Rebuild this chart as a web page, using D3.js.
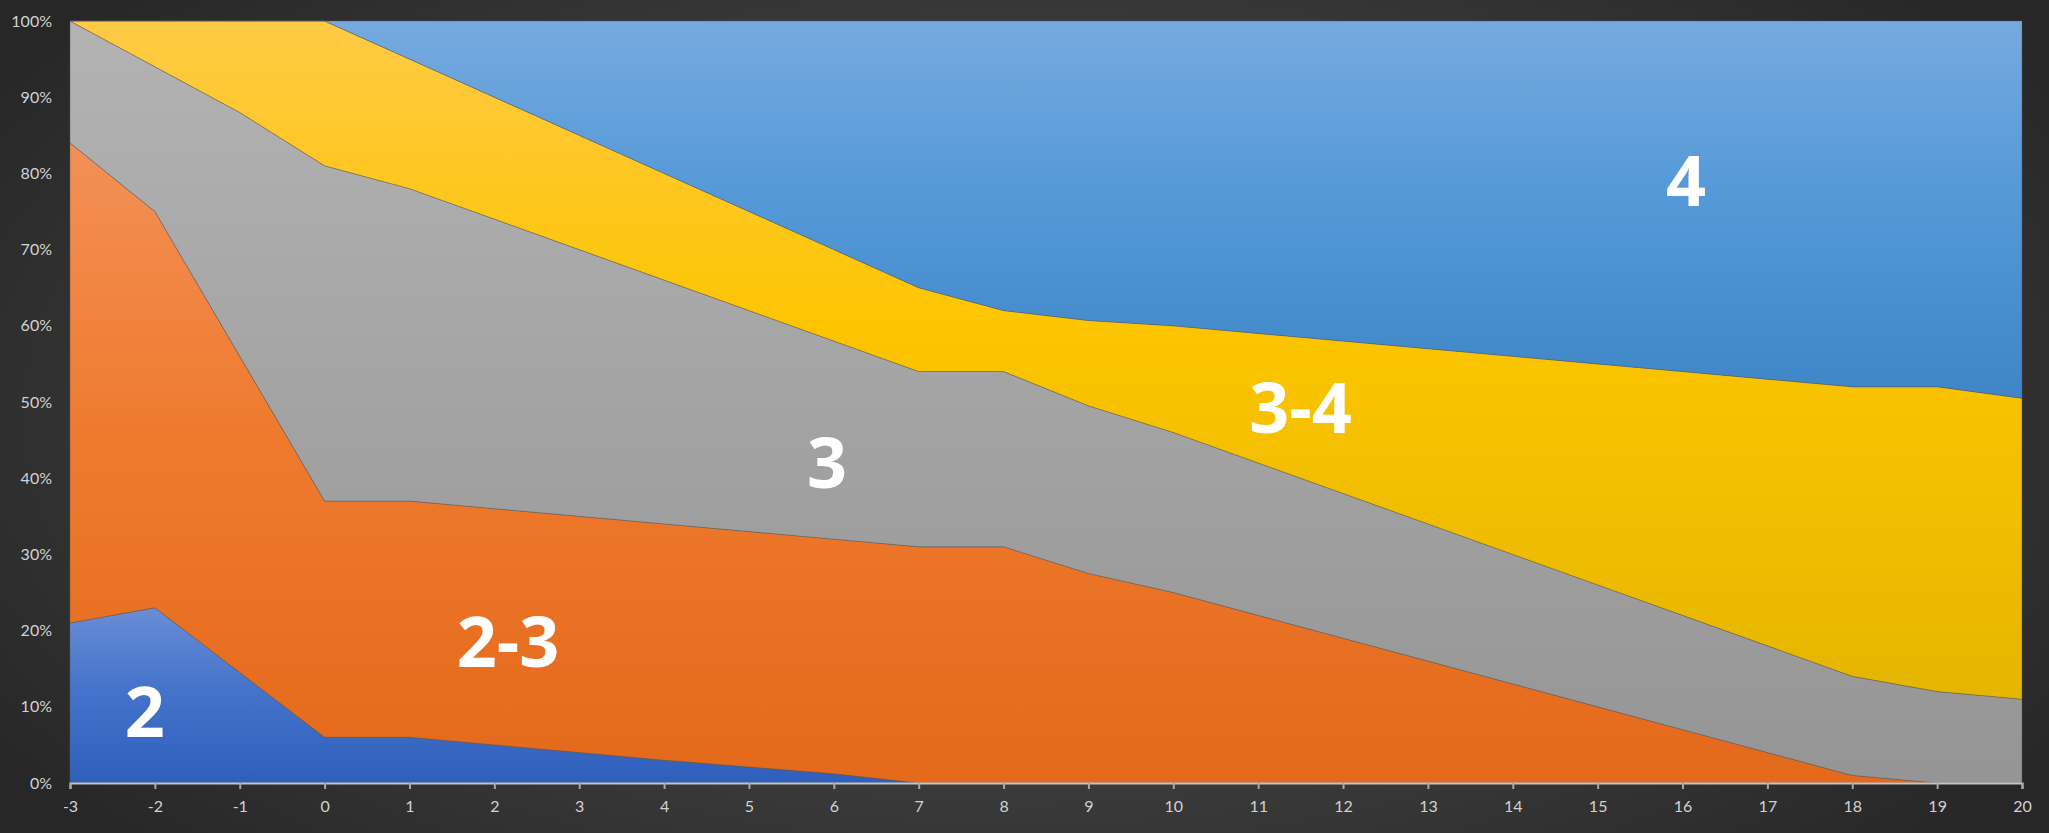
<!DOCTYPE html>
<meta charset="utf-8">
<style>
  html, body { margin: 0; padding: 0; }
  body {
    width: 2049px; height: 833px; overflow: hidden;
    background: radial-gradient(ellipse 60% 75% at 50% 50%, #4e4e4e 0%, #3c3c3c 55%, #272727 100%);
  }
  .axis text { font-family: Lato, "Open Sans", sans-serif; font-size: 16px; fill: #d2d2d2; }
  .big { font-family: "Open Sans", sans-serif; font-weight: 700; font-size: 70px; fill: #fff; }
</style>
<script src="https://cdn.jsdelivr.net/npm/d3@7"></script>
<body>
<svg id="chart" width="2049" height="833"></svg>
<script>
// x categories
var xs = [-3,-2,-1,0,1,2,3,4,5,6,7,8,9,10,11,12,13,14,15,16,17,18,19,20];

// series values (percent, each column sums to 100)
var s2  = [21,23,14.5,6,6,5,4,3,2.1,1.2,0,0,0,0,0,0,0,0,0,0,0,0,0,0];
var s23 = [63,52,41.5,31,31,31,31,31,30.9,30.8,31,31,27.5,25,22,19,16,13,10,7,4,1,0,0];
var s3  = [16,19,32,44,41,38,35,32,29,26,23,23,22,21,20,19,18,17,16,15,14,13,12,11];
var s34 = [0,6,12,19,17,16,15,14,13,12,11,8,11.2,14,17,20,23,26,29,32,35,38,40,39.5];
var s4  = [0,0,0,0,5,10,15,20,25,30,35,38,39.3,40,41,42,43,44,45,46,47,48,48,49.5];

var keys = ['2','2-3','3','3-4','4'];
var labelAt = {'2':[-2.12,9.6], '2-3':[2.16,18.8], '3':[5.92,42.2], '3-4':[11.5,49.5], '4':[16.04,79.2]};

var table = xs.map(function(x,i){
  return {x:x, '2':s2[i], '2-3':s23[i], '3':s3[i], '3-4':s34[i], '4':s4[i]};
});

var grads = {
  '2':   ['#6a8dd5','#4674cb','#2e5fbb'],
  '2-3': ['#f39057','#ef7a2e','#e4691a'],
  '3':   ['#b3b3b3','#a5a5a5','#959595'],
  '3-4': ['#ffca45','#fdc500','#e5b600'],
  '4':   ['#76aadf','#5599d8','#3e86c7']
};

var margin = {left:70, right:27, top:21, bottom:50};
var W = 2049, H = 833;

var svg = d3.select('#chart');

var x = d3.scaleLinear().domain([-3,20]).range([margin.left, W - margin.right]);
var y = d3.scaleLinear().domain([0,100]).range([H - margin.bottom, margin.top]);

var stack = d3.stack().keys(keys);
var layers = stack(table);

var defs = svg.append('defs');
keys.forEach(function(k,i){
  var g = defs.append('linearGradient').attr('id','g'+i)
    .attr('x1',0).attr('y1',0).attr('x2',0).attr('y2',1);
  g.append('stop').attr('offset','0%').attr('stop-color',grads[k][0]);
  g.append('stop').attr('offset','45%').attr('stop-color',grads[k][1]);
  g.append('stop').attr('offset','100%').attr('stop-color',grads[k][2]);
});

var area = d3.area()
  .x(function(d){ return x(d.data.x); })
  .y0(function(d){ return y(d[0]); })
  .y1(function(d){ return y(d[1]); });

svg.append('g').selectAll('path')
  .data(layers)
  .enter().append('path')
  .attr('d', area)
  .attr('fill', function(d,i){ return 'url(#g'+i+')'; })
  .attr('stroke', 'rgba(90,90,90,0.55)')
  .attr('stroke-width', 0.8);

// axes
var xAxis = d3.axisBottom(x).tickValues(xs).tickSize(6).tickPadding(12)
  .tickFormat(function(d){ return String(d); });
var gx = svg.append('g').attr('class','axis')
  .attr('transform','translate(0,'+(H - margin.bottom)+')')
  .call(xAxis);
gx.select('.domain').attr('stroke','#c4c4c4').attr('stroke-width',2);
gx.selectAll('.tick line').attr('stroke','#a8a8a8').attr('stroke-width',2);

var yAxis = d3.axisLeft(y).tickValues(d3.range(0,101,10)).tickSize(0).tickPadding(18)
  .tickFormat(function(d){ return d + '%'; });
var gy = svg.append('g').attr('class','axis')
  .attr('transform','translate('+margin.left+',0)')
  .call(yAxis);
gy.select('.domain').remove();

// big series labels
svg.append('g').selectAll('text')
  .data(keys)
  .enter().append('text')
  .attr('class','big')
  .attr('x', function(k){ return x(labelAt[k][0]); })
  .attr('y', function(k){ return y(labelAt[k][1]); })
  .attr('text-anchor','middle')
  .attr('dominant-baseline','central')
  .text(function(k){ return k; });
</script>
</body>
